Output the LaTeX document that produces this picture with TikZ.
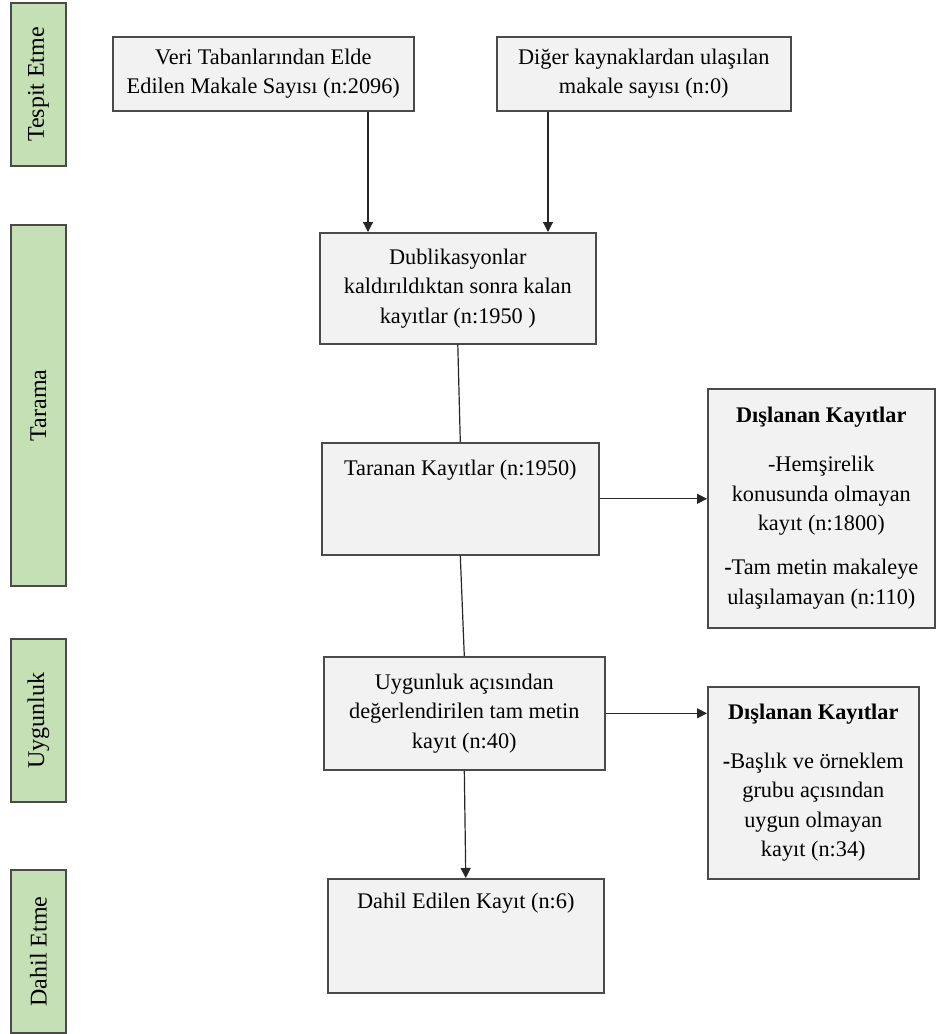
\documentclass[tikz,border=0pt]{standalone}
\usepackage{fontspec}
\setmainfont{Liberation Serif}
\usetikzlibrary{arrows.meta,%
		calc,%
		positioning}
\definecolor{evreyesil}{HTML}{C5E0B4}
\definecolor{kutugri}{HTML}{F2F2F2}
\definecolor{cizgirenk}{HTML}{4A4A4A}

\begin{document}
\begin{tikzpicture}[x=1pt,y=-1pt,font=\fontsize{22.3}{29.5}\selectfont,
  kutu/.style={draw=cizgirenk,line width=1.6pt,fill=kutugri,anchor=north west,align=center,inner sep=0pt},
  evre/.style={draw=cizgirenk,line width=1.6pt,fill=evreyesil,rotate=90,minimum height=55pt,inner sep=0pt,font=\fontsize{24}{29}\selectfont},
  ok/.style={line width=1.2pt,draw=black!85,-{Triangle[width=10pt,length=10pt]}},
  cizgi/.style={line width=1.2pt,draw=black!85}]

  \useasboundingbox (0,0) rectangle (935,1034);

  \node[evre,minimum width=163pt] (tespit) at (38.5,84.5) {Tespit Etme};
  \node[evre,minimum width=361pt] (tarama) at (38.5,405.5) {Tarama};
  \node[evre,minimum width=163pt] (uygunluk) at (38.5,720.5) {Uygunluk};
  \node[evre,minimum width=163pt] (dahiletme) at (38.5,951.5) {Dahil Etme};

  \node[kutu,minimum width=301pt,minimum height=74pt] (veri) at (112,36) {Veri Tabanlarından Elde\\Edilen Makale Sayısı (n:2096)};
  \node[kutu,minimum width=294pt,minimum height=74pt] (diger) at (496,36) {Diğer kaynaklardan ulaşılan\\makale sayısı (n:0)};
  \node[kutu,minimum width=276pt,minimum height=111pt] (dub) at (319,232) {Dublikasyonlar\\kaldırıldıktan sonra kalan\\kayıtlar (n:1950 )};
  \node[kutu,minimum width=277pt,minimum height=112pt,inner ysep=17pt,text height=16pt,text depth=62pt] (tar) at (321,442) {Taranan Kayıtlar (n:1950)};
  \node[kutu,minimum width=281pt,minimum height=113pt] (uyg) at (323,656) {Uygunluk açısından\\değerlendirilen tam metin\\kayıt (n:40)};
  \node[kutu,minimum width=276pt,minimum height=114pt,inner ysep=14pt,text height=16pt,text depth=70pt] (dahil) at (327,878) {Dahil Edilen Kayıt (n:6)};

  \node[kutu,minimum width=227pt,minimum height=239pt] (dis1) at (707,388) {\textbf{Dışlanan Kayıtlar}\\[19.5pt]-Hemşirelik\\konusunda olmayan\\kayıt (n:1800)\\[14.5pt]\textbf{-}Tam metin makaleye\\ulaşılamayan (n:110)};
  \node[kutu,minimum width=211pt,minimum height=192pt] (dis2) at (707,686) {\textbf{Dışlanan Kayıtlar}\\[19.5pt]\textbf{-}Başlık ve örneklem\\grubu açısından\\uygun olmayan\\kayıt (n:34)};

  \draw[ok] (veri.south -| 368,0) -- (dub.north -| 368,0);
  \draw[ok] (diger.south -| 548,0) -- (dub.north -| 548,0);
  \draw[cizgi] (dub.south) -- (tar.north);
  \draw[cizgi] (tar.south) -- (uyg.north);
  \draw[ok] (uyg.south) -- (dahil.north);
  \draw[ok] (tar.east) -- (tar.east -| dis1.west);
  \draw[ok] (uyg.east) -- (uyg.east -| dis2.west);

\end{tikzpicture}
\end{document}
